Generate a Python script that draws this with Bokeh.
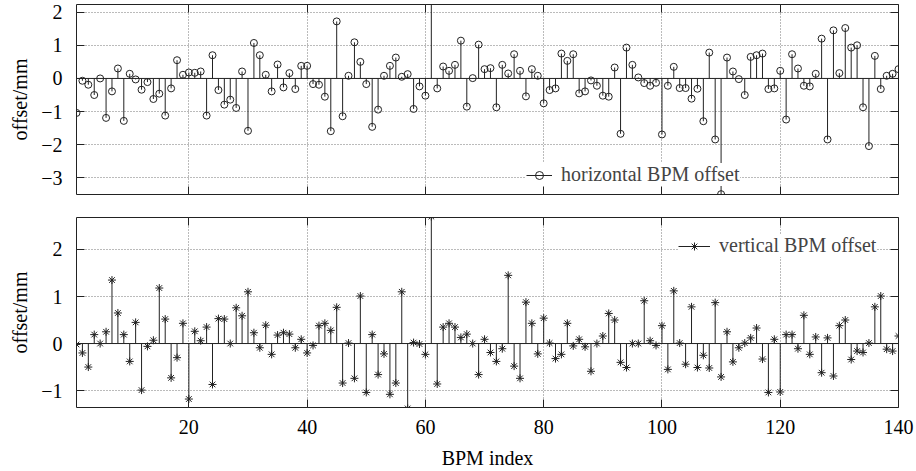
from bokeh.plotting import figure
from bokeh.models import (Range1d, FixedTicker, LinearAxis, Span, Legend, LegendItem,
                          ColumnDataSource, CustomLabelingPolicy)
from bokeh.layouts import column
from bokeh.embed import file_html
from bokeh.resources import INLINE

bpm_index = list(range(1, 141))

horizontal_offset = [
    -1.04, -0.07, -0.19, -0.50, 0.00, -1.19, -0.39, 0.30, -1.28, 0.14,
    -0.03, -0.34, -0.11, -0.62, -0.46, -1.12, -0.30, 0.55, 0.11, 0.18,
    0.17, 0.21, -1.12, 0.70, -0.35, -0.79, -0.64, -0.89, 0.21, -1.58,
    1.07, 0.70, 0.11, -0.39, 0.42, -0.27, 0.16, -0.32, 0.38, 0.38,
    -0.17, -0.19, -0.55, -1.59, 1.72, -1.14, 0.08, 1.09, 0.50, -0.17,
    -1.46, -0.94, 0.08, 0.38, 0.63, 0.05, 0.13, -0.92, -0.24, -0.52,
    2.70, -0.30, 0.36, 0.23, 0.41, 1.14, -0.85, 0.01, 1.02, 0.28,
    0.31, -0.87, 0.41, 0.15, 0.73, 0.23, -0.54, 0.28, 0.08, -0.75,
    -0.35, -0.30, 0.75, 0.53, 0.73, -0.45, -0.39, -0.06, -0.22, -0.52,
    -0.55, 0.33, -1.67, 0.93, 0.41, 0.03, -0.14, -0.22, -0.13, -1.69,
    -0.22, 0.35, -0.29, -0.29, -0.61, -0.31, -1.29, 0.78, -1.84, -3.49,
    0.63, 0.21, -0.02, -0.50, 0.65, 0.70, 0.75, -0.32, -0.30, 0.23,
    -1.24, 0.73, 0.30, -0.22, -0.24, 0.14, 1.20, -1.84, 1.45, 0.16,
    1.52, 0.93, 1.00, -0.87, -2.04, 0.68, -0.32, 0.08, 0.14, 0.28,
]

vertical_offset = [
    -0.02, -0.20, -0.50, 0.19, 0.00, 0.25, 1.35, 0.65, 0.19, -0.38,
    0.45, -0.99, -0.06, 0.07, 1.18, 0.52, -0.73, -0.30, 0.43, -1.18,
    0.26, 0.06, 0.35, -0.87, 0.53, 0.52, 0.00, 0.76, 0.59, 1.10,
    0.23, -0.09, 0.39, -0.23, 0.18, 0.23, 0.20, -0.09, 0.09, -0.20,
    -0.04, 0.38, 0.43, 0.28, 0.77, -0.84, 0.01, -0.74, 1.01, -1.04,
    0.19, -0.66, -0.22, -1.08, -0.84, 1.10, -1.38, 0.02, -0.01, -0.23,
    2.70, -0.86, 0.35, 0.43, 0.35, 0.13, 0.20, 0.00, -0.66, 0.09,
    -0.19, -0.38, -0.11, 1.45, -0.48, -0.74, 0.88, 0.43, -0.22, 0.54,
    0.01, -0.32, -0.23, 0.43, -0.05, 0.09, -0.07, -0.59, 0.00, 0.16,
    0.64, 0.50, -0.40, -0.51, 0.00, 0.00, 0.91, 0.06, -0.04, 0.38,
    -0.55, 1.12, 0.01, -0.44, 0.78, -0.51, -0.25, -0.52, 0.87, -0.71,
    0.25, -0.39, -0.09, 0.01, 0.12, 0.33, -0.33, -1.04, 0.09, -1.03,
    0.19, 0.19, -0.11, 0.60, -0.23, 0.14, -0.62, 0.12, -0.69, 0.38,
    0.50, -0.34, -0.16, -0.19, 0.01, 0.78, 1.01, -0.12, -0.16, 0.16,
]

x_ticks = [20, 40, 60, 80, 100, 120, 140]
h_y_ticks = [-3, -2, -1, 0, 1, 2]
v_y_ticks = [-1, 0, 1, 2]

FONT = "Liberation Serif"
HIDE_CODE = "for (const i of Array.from(indices)) { indices.unset(i) }\nreturn indices"


def tick_labels(ticks):
    return {t: (("\u2212" + str(abs(t))) if t < 0 else str(t)) for t in ticks}


def make_fig(height, b_top, b_bottom, y_lo, y_hi, y_ticks, show_x):
    p = figure(width=916, height=height, x_range=Range1d(1, 140),
               y_range=Range1d(y_lo, y_hi), output_backend="svg",
               toolbar_location=None, min_border_left=76, min_border_right=18,
               min_border_top=b_top, min_border_bottom=b_bottom,
               background_fill_color="white", border_fill_color="white")
    p.outline_line_color = "#222222"
    p.outline_line_width = 1
    # mirror axes (ticks only)
    p.add_layout(LinearAxis(), "above")
    p.add_layout(LinearAxis(), "right")
    for ax in p.xaxis:
        ax.ticker = FixedTicker(ticks=x_ticks)
    for ax in p.yaxis:
        ax.ticker = FixedTicker(ticks=y_ticks)
    for ax in list(p.xaxis) + list(p.yaxis):
        ax.axis_line_color = None
        ax.major_tick_in = 8
        ax.major_tick_out = 0
        ax.major_tick_line_color = "#222222"
        ax.minor_tick_line_color = None
        ax.major_label_text_font = FONT
        ax.major_label_text_font_size = "1px"
        ax.major_label_standoff = 0
        ax.major_label_policy = CustomLabelingPolicy(code=HIDE_CODE)
        ax.axis_label_text_font = FONT
        ax.axis_label_text_font_style = "normal"
        ax.axis_label_text_font_size = "20px"
        ax.axis_label_text_color = "black"
        ax.major_label_text_color = "black"
    ly = p.left[0]
    ly.major_label_policy = CustomLabelingPolicy(code="return indices")
    ly.major_label_text_font_size = "20px"
    ly.major_label_standoff = 14
    ly.major_label_overrides = tick_labels(y_ticks)
    ly.axis_label = "offset/mm"
    ly.axis_label_standoff = 7
    if show_x:
        bx = p.below[0]
        bx.major_label_policy = CustomLabelingPolicy(code="return indices")
        bx.major_label_text_font_size = "20px"
        bx.major_label_standoff = 12
        bx.axis_label = "BPM index"
        bx.axis_label_standoff = 10
    p.xgrid.grid_line_color = "#777777"
    p.ygrid.grid_line_color = "#777777"
    p.xgrid.grid_line_dash = "1 2"
    p.ygrid.grid_line_dash = "1 2"
    p.xgrid.grid_line_width = 1
    p.ygrid.grid_line_width = 1
    p.add_layout(Span(location=0, dimension="width", line_color="#222222", line_width=1))
    return p


# top: horizontal offsets
p1 = make_fig(210, 3, 16, -3.5, 2.23, h_y_ticks, False)
src_h = ColumnDataSource(dict(x=bpm_index, y=horizontal_offset, y0=[0] * len(bpm_index)))
s1 = p1.segment(x0="x", y0="y0", x1="x", y1="y", source=src_h, line_color="#222222", line_width=1)
m1 = p1.scatter(x="x", y="y", source=src_h, marker="circle", size=7,
                fill_color=None, line_color="#222222", line_width=1)
leg1 = Legend(items=[LegendItem(label="horizontal BPM offset", renderers=[s1, m1])],
              location=(450, 8), margin=0, padding=5, glyph_width=26, glyph_height=20,
              label_height=20, label_standoff=9, label_text_font=FONT,
              label_text_font_size="20px", border_line_color=None,
              background_fill_color="white", background_fill_alpha=1.0)
p1.add_layout(leg1)

# bottom: vertical offsets
p2 = make_fig(261, 7, 63, -1.36, 2.68, v_y_ticks, True)
src_v = ColumnDataSource(dict(x=bpm_index, y=vertical_offset, y0=[0] * len(bpm_index)))
s2 = p2.segment(x0="x", y0="y0", x1="x", y1="y", source=src_v, line_color="#222222", line_width=1)
m2 = p2.scatter(x="x", y="y", source=src_v, marker="asterisk", size=8,
                line_color="#222222", line_width=1)
leg2 = Legend(items=[LegendItem(label="vertical BPM offset", renderers=[s2, m2])],
              location=(602, 150), margin=0, padding=5, glyph_width=32, glyph_height=20,
              label_height=20, label_standoff=9, label_text_font=FONT,
              label_text_font_size="20px", border_line_color=None,
              background_fill_color="white", background_fill_alpha=1.0)
p2.add_layout(leg2)

layout = column(p1, p2, spacing=0)
open("out.html", "w").write(file_html(layout, INLINE))
